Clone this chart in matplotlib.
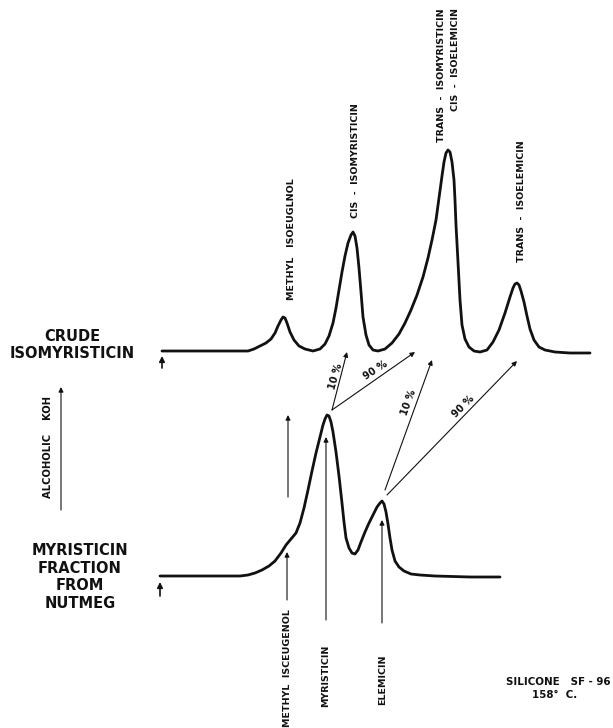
import matplotlib
matplotlib.use("Agg")
import matplotlib.pyplot as plt

# ---- data (x = retention position, y = recorder position, downward) ----
crude_x = [162, 200, 248, 254, 260, 266, 271, 275, 278, 281, 283, 285, 287, 290, 294, 299, 305, 313,
           320, 325, 329, 333, 336, 339, 342, 345, 348, 351, 353, 355, 357, 359, 361, 363, 366, 369,
           373, 378, 385, 392, 399, 405, 411, 417, 423, 428, 432, 436, 439, 442, 444, 446, 448, 450,
           452, 454, 455, 456, 458, 460, 462, 465, 469, 474, 480, 487, 493, 499, 505, 510, 513, 515,
           517, 519, 521, 524, 527, 530, 534, 539, 545, 555, 570, 590]
crude_y = [351, 351, 351, 349, 346, 343, 339, 333, 326, 320, 317, 318, 323, 332, 340, 346, 349, 351,
           349, 344, 336, 323, 308, 290, 272, 256, 243, 235, 232, 236, 248, 268, 292, 317, 335, 345,
           350, 351, 349, 343, 334, 323, 310, 295, 277, 258, 240, 220, 198, 176, 162, 153, 150, 152,
           162, 180, 200, 225, 262, 300, 325, 339, 347, 351, 352, 350, 342, 330, 313, 297, 288, 284,
           283, 285, 291, 302, 316, 329, 340, 347, 350, 352, 353, 353]

nutmeg_x = [160, 200, 240, 248, 255, 262, 269, 275, 281, 286, 291, 296, 300, 304, 308, 312, 316, 320,
            323, 325, 327, 329, 331, 333, 336, 339, 342, 344, 346, 349, 352, 355, 358, 361, 365, 369,
            373, 377, 380, 382, 384, 386, 388, 390, 392, 395, 399, 404, 411, 420, 435, 470, 500]
nutmeg_y = [576, 576, 576, 575, 573, 570, 566, 561, 553, 545, 539, 533, 523, 508, 490, 471, 453, 437,
            425, 419, 415, 416, 422, 432, 452, 476, 503, 522, 538, 548, 553, 554, 550, 542, 532, 523,
            515, 507, 503, 501, 504, 512, 524, 538, 550, 561, 567, 571, 574, 575, 576, 577, 577]

crude_labels = ["METHYL   ISOEUGLNOL", "CIS  -  ISOMYRISTICIN",
                "TRANS  -  ISOMYRISTICIN", "CIS  -  ISOELEMICIN", "TRANS  -  ISOELEMICIN"]
nutmeg_labels = ["METHYL  ISCEUGENOL", "MYRISTICIN", "ELEMICIN"]
conversion_labels = ["10 %", "90 %", "10 %", "90 %"]

fig = plt.figure(figsize=(6.13, 7.28), dpi=100)
ax = fig.add_axes([0, 0, 1, 1])
ax.set_xlim(0, 613)
ax.set_ylim(728, 0)
ax.axis("off")

ink = "#111111"
ax.plot(crude_x, crude_y, color=ink, lw=2.0, solid_joinstyle="round", solid_capstyle="round")
ax.plot(nutmeg_x, nutmeg_y, color=ink, lw=2.0, solid_joinstyle="round", solid_capstyle="round")

def arrow(x0, y0, x1, y1, lw=0.8, ms=7):
    ax.annotate("", xy=(x1, y1), xytext=(x0, y0),
                arrowprops=dict(arrowstyle="-|>", lw=lw, color=ink, mutation_scale=ms,
                                shrinkA=0, shrinkB=0))

# injection marks
arrow(162, 368, 162, 356, lw=1.2, ms=8)
arrow(160, 596, 160, 582, lw=1.2, ms=8)

# alcoholic KOH arrow
arrow(61, 510, 61, 387)
ax.text(48, 447, "ALCOHOLIC    KOH", rotation=90, ha="center", va="center",
        fontsize=7.2, fontweight="bold", color=ink)

# vertical arrow near methyl isoeugenol (between traces)
arrow(288, 497, 288, 415)

# lower-trace peak marker arrows
arrow(287, 600, 287, 552)
arrow(326, 620, 326, 437)
arrow(382, 623, 382, 520)

# conversion arrows
arrow(332, 410, 347, 352)
arrow(332, 410, 415, 352)
arrow(385, 490, 432, 360)
arrow(387, 495, 517, 361)

pct = dict(ha="center", va="center", fontsize=7.0, fontweight="bold", color=ink)
ax.text(336, 376, conversion_labels[0], rotation=74, **pct)
ax.text(376, 370, conversion_labels[1], rotation=33, **pct)
ax.text(409, 402, conversion_labels[2], rotation=70, **pct)
ax.text(463, 406, conversion_labels[3], rotation=45, **pct)

lab = dict(rotation=90, fontsize=6.8, fontweight="bold", color=ink, rotation_mode="anchor")
# crude peak labels (text anchored at its bottom end)
ax.text(291, 300, crude_labels[0], ha="left", va="center", **lab)
ax.text(356, 218, crude_labels[1], ha="left", va="center", **lab)
ax.text(441, 8, crude_labels[2], ha="right", va="center", **lab)
ax.text(456, 8, crude_labels[3], ha="right", va="center", **lab)
ax.text(522, 262, crude_labels[4], ha="left", va="center", **lab)

# nutmeg labels (anchored at bottom end)
ax.text(288, 727, nutmeg_labels[0], ha="left", va="center", **lab)
ax.text(326, 707, nutmeg_labels[1], ha="left", va="center", **lab)
ax.text(383, 705, nutmeg_labels[2], ha="left", va="center", **lab)

# sample names
big = dict(fontsize=10.5, fontweight="bold", color=ink, ha="center", va="center",
           linespacing=1.2)
ax.text(72, 345, "CRUDE\nISOMYRISTICIN", **big)
ax.text(80, 577, "MYRISTICIN\nFRACTION\nFROM\nNUTMEG", **big)

ax.text(558, 682, "SILICONE   SF - 96", ha="center", va="center", fontsize=7.4,
        fontweight="bold", color=ink)
ax.text(555, 695, "158°  C.", ha="center", va="center", fontsize=7.4,
        fontweight="bold", color=ink)

fig.savefig("out.png", dpi=100, facecolor="white")
